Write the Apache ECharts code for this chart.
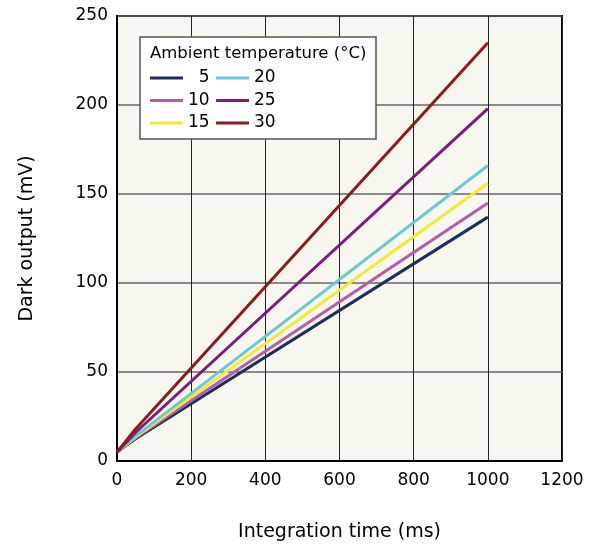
<!DOCTYPE html>
<html>
<head>
<meta charset="utf-8">
<script src="https://cdn.jsdelivr.net/npm/echarts@6/dist/echarts.min.js"></script>
<style>
  html, body { margin: 0; padding: 0; background: #fff; }
  #chart { width: 595px; height: 552px; }
</style>
</head>
<body>
<div id="chart"></div>
<script>
// integration time (ms)
var times = [0, 50, 1000];
// dark output (mV) per ambient temperature
var t5  = [5, 12.5, 137];
var t10 = [5, 13, 145];
var t15 = [5, 13.5, 156];
var t20 = [5, 14, 166];
var t25 = [5, 16, 198];
var t30 = [5, 18, 235];

var names  = ['5', '10', '15', '20', '25', '30'];
var values = [t5, t10, t15, t20, t25, t30];
var colors = ['#1f2d5c', '#b35eaa', '#f2e93c', '#6fc6d3', '#7b1c80', '#8b1b1d'];

var font = 'DejaVu Sans';

function pairs(ys) {
	var out = [];
	for (var i = 0; i < times.length; i++) out.push([times[i], ys[i]]);
	return out;
}

var series = names.map(function (n, i) {
	return {
		name: n,
		type: 'line',
		data: pairs(values[i]),
		showSymbol: false,
		symbol: 'none',
		lineStyle: { color: colors[i], width: 3 },
		itemStyle: { color: colors[i] },
		z: 3
	};
});

function legendCol(left, items) {
	return {
		left: left,
		top: 69,
		padding: 0,
		orient: 'vertical',
		data: items,
		icon: 'rect',
		itemWidth: 33,
		itemHeight: 3,
		itemGap: 4.5,
		z: 10,
		formatter: function (n) { return n.length < 2 ? '\u2007' + n : n; },
		textStyle: { fontFamily: font, fontSize: 17, color: '#000', lineHeight: 18 }
	};
}

var chart = echarts.init(document.getElementById('chart'));
chart.setOption({
	animation: false,
	grid: {
		left: 117, right: 33, top: 16, bottom: 91,
		show: true,
		backgroundColor: '#f7f6ef',
		borderColor: '#000',
		borderWidth: 2
	},
	xAxis: {
		type: 'value',
		min: 0, max: 1200, interval: 200,
		name: 'Integration time (ms)',
		nameLocation: 'middle',
		nameGap: 62,
		nameTextStyle: { fontFamily: font, fontSize: 19, color: '#000' },
		axisLine: { lineStyle: { color: '#000', width: 2 } },
		axisTick: { show: false },
		axisLabel: { fontFamily: font, fontSize: 17, color: '#000', margin: 11, formatter: function (v) { return String(v); } },
		splitLine: { lineStyle: { color: '#222', width: 1 } }
	},
	yAxis: {
		type: 'value',
		min: 0, max: 250, interval: 50,
		name: 'Dark output (mV)',
		nameLocation: 'middle',
		nameGap: 80,
		nameTextStyle: { fontFamily: font, fontSize: 19, color: '#000' },
		axisLine: { lineStyle: { color: '#000', width: 2 } },
		axisTick: { show: false },
		axisLabel: { fontFamily: font, fontSize: 17, color: '#000', margin: 9 },
		splitLine: { lineStyle: { color: '#666', width: 1.5 } }
	},
	legend: [
		legendCol(150, ['5', '10', '15']),
		legendCol(216, ['20', '25', '30'])
	],
	graphic: [
		{
			type: 'rect',
			z: 8,
			shape: { x: 140, y: 37, width: 236, height: 102 },
			style: { fill: '#fff', stroke: '#555', lineWidth: 1.5 }
		},
		{
			type: 'text',
			z: 10,
			x: 150, y: 45,
			style: { text: 'Ambient temperature (°C)', fontFamily: font, fontSize: 16.5, fill: '#000' }
		}
	],
	series: series
});
</script>
</body>
</html>
